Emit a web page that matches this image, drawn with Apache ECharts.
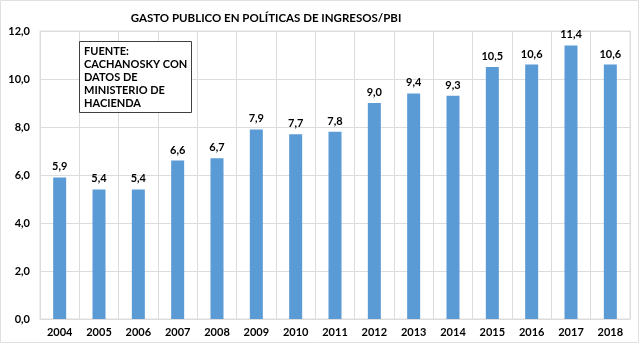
<!DOCTYPE html>
<html><head><meta charset="utf-8">
<script src="https://cdn.jsdelivr.net/npm/echarts@6/dist/echarts.min.js"></script>
<style>html,body{margin:0;padding:0;background:#fff}#c{width:640px;height:344px}</style>
</head><body><div id="c"></div>
<script>
var years = ['2004','2005','2006','2007','2008','2009','2010','2011','2012','2013','2014','2015','2016','2017','2018'];
var values = [5.9, 5.4, 5.4, 6.6, 6.7, 7.9, 7.7, 7.8, 9.0, 9.4, 9.3, 10.5, 10.6, 11.4, 10.6];
var titleText = 'GASTO PUBLICO EN POLÍTICAS DE INGRESOS/PBI';
var noteText = 'FUENTE:\nCACHANOSKY CON\nDATOS DE\nMINISTERIO DE\nHACIENDA';
var FONT = 'Lato, "Open Sans", sans-serif';
var chart = echarts.init(document.getElementById('c'));
function fmt(v){ return v.toFixed(1).replace('.', ','); }
chart.setOption({
  animation: false,
  backgroundColor: '#fff',
  title: { text: titleText, left: 261, top: 7, textAlign: 'center',
    textStyle: { fontFamily: FONT, fontWeight: 'bold', fontSize: 11.5, color: '#000' } },
  grid: { left: 40, right: 10, top: 31, bottom: 25, show: true, borderColor: '#dcdcdc', borderWidth: 1 },
  xAxis: {
    type: 'category', data: years,
    axisLine: { show: true, lineStyle: { color: '#dcdcdc' } },
    axisTick: { show: false },
    splitLine: { show: true, lineStyle: { color: '#dcdcdc', width: 1 } },
    axisLabel: { fontFamily: FONT, fontWeight: 'bold', fontSize: 11, color: '#000', margin: 8, interval: 0 }
  },
  yAxis: {
    type: 'value', min: 0, max: 12, interval: 2,
    axisLine: { show: false }, axisTick: { show: false },
    splitLine: { lineStyle: { color: '#dcdcdc', width: 1 } },
    axisLabel: { fontFamily: FONT, fontWeight: 'bold', fontSize: 11, color: '#000', margin: 10, formatter: function(v){ return fmt(v); } }
  },
  series: [{
    type: 'bar', data: values, barWidth: 13,
    itemStyle: { color: '#5B9BD5' },
    label: { show: true, position: 'top', distance: 5, fontFamily: FONT, fontWeight: 'bold', fontSize: 11, color: '#000',
      formatter: function(p){ return fmt(p.value); } }
  }],
  graphic: [
    { type: 'rect', shape: { x: 79.5, y: 41.5, width: 112, height: 71 }, style: { fill: '#fff', stroke: '#404040', lineWidth: 1 }, z: 10 },
    { type: 'text', left: 84, top: 45, z: 11, style: { text: noteText, fontFamily: FONT, fontWeight: 'bold', fontSize: 11, lineHeight: 13, fill: '#000' } },
    { type: 'rect', shape: { x: 0.5, y: 0.5, width: 638, height: 342 }, style: { fill: 'none', stroke: '#e0e0e0', lineWidth: 1 }, z: 0 }
  ]
});
</script></body></html>
